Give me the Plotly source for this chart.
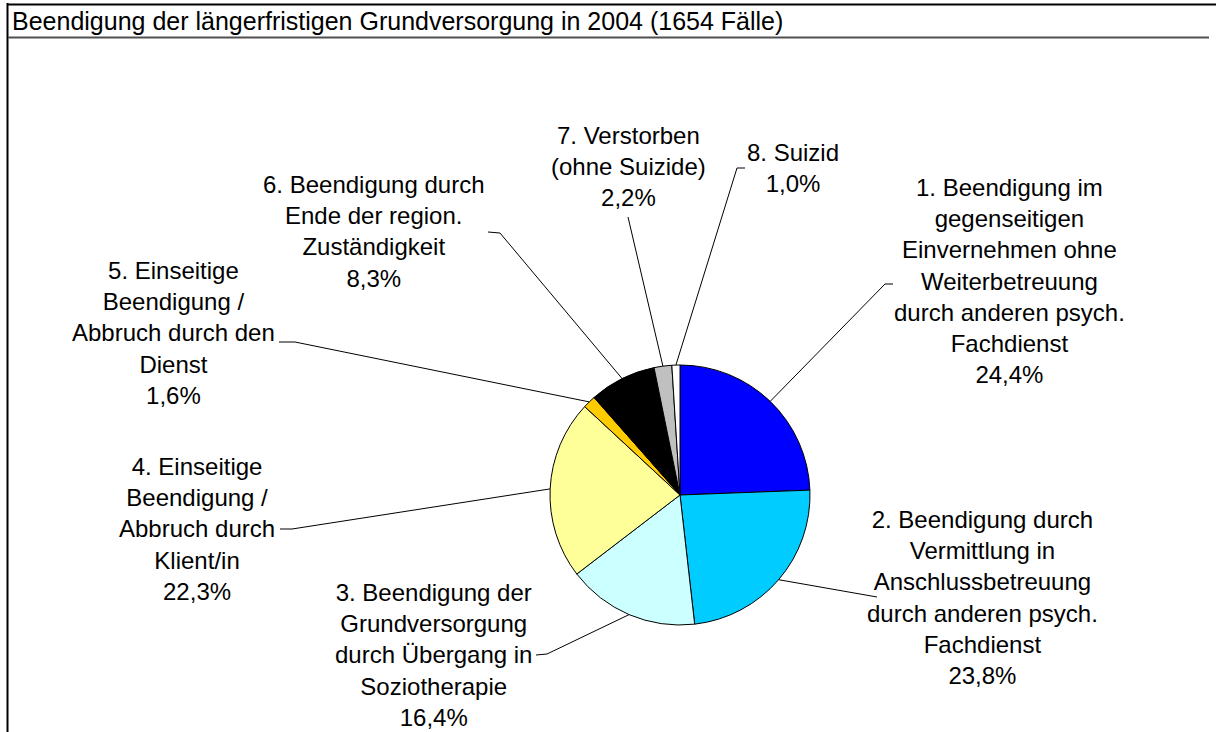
import math
import plotly.graph_objects as go

# ---- data ----
categories = [
    "1. Beendigung im<br>gegenseitigen<br>Einvernehmen ohne<br>Weiterbetreuung<br>durch anderen psych.<br>Fachdienst",
    "2. Beendigung durch<br>Vermittlung in<br>Anschlussbetreuung<br>durch anderen psych.<br>Fachdienst",
    "3. Beendigung der<br>Grundversorgung<br>durch Übergang in<br>Soziotherapie",
    "4. Einseitige<br>Beendigung /<br>Abbruch durch<br>Klient/in",
    "5. Einseitige<br>Beendigung /<br>Abbruch durch den<br>Dienst",
    "6. Beendigung durch<br>Ende der region.<br>Zuständigkeit",
    "7. Verstorben<br>(ohne Suizide)",
    "8. Suizid",
]
percent_values = [24.4, 23.8, 16.4, 22.3, 1.6, 8.3, 2.2, 1.0]
percent_labels = ["24,4%", "23,8%", "16,4%", "22,3%", "1,6%", "8,3%", "2,2%", "1,0%"]
title_text = "Beendigung der längerfristigen Grundversorgung in 2004 (1654 Fälle)"

# ---- styles / layout ----
colors = ["#0000FF", "#00CCFF", "#CCFFFF", "#FFFF99", "#FFCC00", "#000000", "#C0C0C0", "#FFFFFF"]
W, H = 1216, 732
CX, CY, R = 680, 495, 130  # pie geometry in pixels
FONT = "Liberation Sans, Arial, sans-serif"
FS = 24

# label block centers (pixels)
label_pos = [(1009, 281), (982, 597), (433, 655), (197, 529), (173, 333), (374, 231), (628, 166), (793, 168)]
# leader line bends / ends (pixels)
leader_pts = [
    [(885, 284), (893, 284)],
    [(877, 597)],
    [(547, 654), (536, 655)],
    [(292, 529), (280, 529)],
    [(295, 342), (279, 342)],
    [(500, 233), (488, 232)],
    [(628, 217)],
    [(737, 168), (745, 168)],
]

fig = go.Figure()
fig.add_trace(go.Pie(
    values=percent_values,
    labels=[f"s{i}" for i in range(len(percent_values))],
    sort=False,
    direction="clockwise",
    rotation=0,
    marker=dict(colors=colors, line=dict(color="black", width=1)),
    textinfo="none",
    hoverinfo="skip",
    showlegend=False,
    domain=dict(x=[(CX - R) / W, (CX + R) / W], y=[(H - CY - R) / H, (H - CY + R) / H]),
))

shapes = []
annotations = []
total = sum(percent_values)
cum = 0.0
for i, v in enumerate(percent_values):
    ang = 2 * math.pi * (cum + v / 2) / total
    cum += v
    sx = CX + R * math.sin(ang)
    sy = CY - R * math.cos(ang)
    pts = [(sx, sy)] + leader_pts[i]
    path = "M " + " L ".join(f"{x:.1f},{y:.1f}" for x, y in pts)
    shapes.append(dict(type="path", path=path, xref="x", yref="y",
                       line=dict(color="black", width=1), layer="above"))
    lx, ly = label_pos[i]
    annotations.append(dict(
        x=lx, y=ly, xref="x", yref="y", showarrow=False,
        text=categories[i] + "<br>" + percent_labels[i],
        align="center", xanchor="center", yanchor="middle",
        font=dict(family=FONT, size=FS, color="black"),
    ))

# title
annotations.append(dict(x=10, y=21, xref="x", yref="y", showarrow=False, text=title_text,
                        xanchor="left", yanchor="middle",
                        font=dict(family=FONT, size=25, color="black")))

# frame lines
shapes.append(dict(type="line", x0=7.5, x1=7.5, y0=3, y1=H, xref="x", yref="y",
                   line=dict(color="black", width=2)))
shapes.append(dict(type="line", x0=7, x1=W, y0=4.5, y1=4.5, xref="x", yref="y",
                   line=dict(color="black", width=2)))
shapes.append(dict(type="line", x0=8, x1=1209, y0=37.5, y1=37.5, xref="x", yref="y",
                   line=dict(color="#505050", width=2)))

fig.update_layout(
    width=W, height=H,
    margin=dict(l=0, r=0, t=0, b=0),
    paper_bgcolor="white", plot_bgcolor="rgba(0,0,0,0)",
    xaxis=dict(range=[0, W], visible=False, domain=[0, 1], fixedrange=True),
    yaxis=dict(range=[H, 0], visible=False, domain=[0, 1], fixedrange=True),
    shapes=shapes, annotations=annotations,
    showlegend=False,
)

fig.write_html(
    "out.html",
    config={"displayModeBar": False},
    post_script="document.body.style.margin='0';document.body.style.overflow='hidden';",
)
